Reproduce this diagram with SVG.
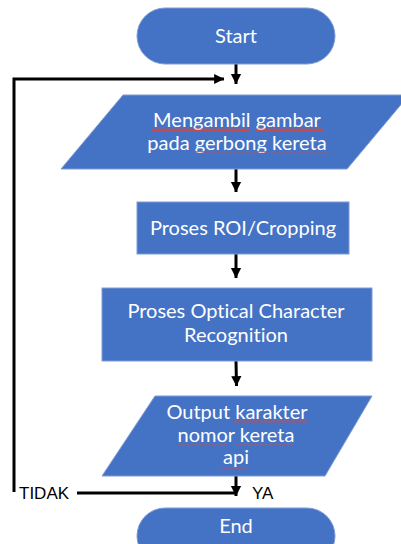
<svg xmlns="http://www.w3.org/2000/svg" width="401" height="544" viewBox="0 0 401 544">
<style>
.shape{fill:#4472C4;stroke:#7F9BD4;stroke-width:1}
.t{font-family:Lato,"Liberation Sans",sans-serif;font-size:20px;fill:#ffffff;text-anchor:middle;font-variant-ligatures:none}
.lbl{font-family:"Liberation Sans",Arial,sans-serif;font-size:17px;fill:#000000}
.ln{fill:none;stroke:#000000;stroke-width:3}
.sq{fill:url(#wave)}
</style>
<defs>
<marker id="ah" markerWidth="4" markerHeight="4" refX="3.3" refY="2" orient="auto" markerUnits="strokeWidth">
<path d="M0,0.3 L3.4,2 L0,3.7 Z" fill="#000000"/>
</marker>
<pattern id="wave" width="4" height="3" patternUnits="userSpaceOnUse">
<path d="M0,2.5 L1,0.5 L2,2.5 L3,0.5 L4,2.5" fill="none" stroke="#D9443A" stroke-width="0.8"/>
</pattern>
</defs>
<g id="connectors">
<line class="ln" x1="236" y1="64" x2="236" y2="84" marker-end="url(#ah)"/>
<polyline class="ln" points="14,492 14,79 224,79" marker-end="url(#ah)"/>
<line class="ln" x1="236" y1="169" x2="236" y2="192" marker-end="url(#ah)"/>
<line class="ln" x1="236" y1="254" x2="236" y2="278" marker-end="url(#ah)"/>
<line class="ln" x1="236" y1="361" x2="236.5" y2="386" marker-end="url(#ah)"/>
<line class="ln" x1="236" y1="476" x2="236" y2="496" marker-end="url(#ah)"/>
<line class="ln" x1="77" y1="493" x2="236" y2="493"/>
</g>
<g id="start">
<rect class="shape" x="137" y="8" width="198" height="56" rx="28" ry="28"/>
<text class="t" x="236" y="43">Start</text>
</g>
<g id="input">
<polygon class="shape" points="123,95 409,95 347,169 61,169"/>
<text class="t" x="237" y="127">Mengambil gambar</text>
<text class="t" x="237" y="150">pada gerbong kereta</text>
<rect class="sq" x="152" y="128" width="98" height="3"/>
<rect class="sq" x="255" y="128" width="68" height="3"/>
<rect class="sq" x="195" y="151" width="72" height="3"/>
<rect class="sq" x="272" y="151" width="57" height="3"/>
</g>
<g id="roi">
<rect class="shape" x="137" y="202" width="212" height="52"/>
<text class="t" x="243" y="235">Proses ROI/Cropping</text>
</g>
<g id="ocr">
<rect class="shape" x="102" y="288" width="270" height="73"/>
<text class="t" x="236" y="318">Proses Optical Character</text>
<text class="t" x="236" y="342">Recognition</text>
</g>
<g id="output">
<polygon class="shape" points="155,396 372,396 325,476 102,476"/>
<text class="t" x="237" y="419">Output karakter</text>
<text class="t" x="236" y="442">nomor kereta</text>
<text class="t" x="236" y="464">api</text>
<rect class="sq" x="234" y="420" width="73" height="3"/>
<rect class="sq" x="178" y="443" width="49" height="3"/>
<rect class="sq" x="235" y="443" width="59" height="3"/>
<rect class="sq" x="222" y="467" width="26" height="3"/>
</g>
<g id="end">
<rect class="shape" x="137" y="508" width="198" height="56" rx="28" ry="28"/>
<text class="t" x="236" y="533">End</text>
</g>
<g id="labels">
<text class="lbl" x="19" y="499">TIDAK</text>
<text class="lbl" x="252" y="499">YA</text>
</g>
</svg>
